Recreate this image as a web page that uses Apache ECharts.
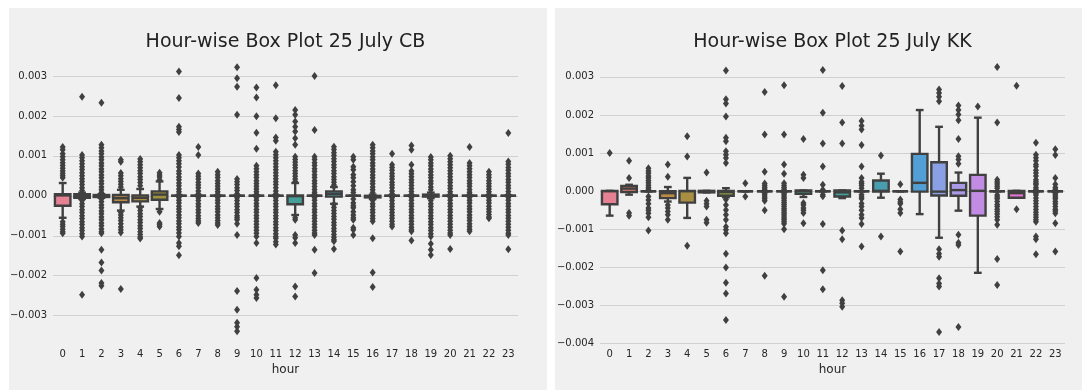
<!DOCTYPE html>
<html><head><meta charset="utf-8">
<script src="https://cdn.jsdelivr.net/npm/echarts@6/dist/echarts.min.js"></script>
<style>html,body{margin:0;padding:0;background:#fff}#c{width:1082px;height:390px}</style>
</head><body><div id="c"></div>
<script>
const hours = ['0','1','2','3','4','5','6','7','8','9','10','11','12','13','14','15','16','17','18','19','20','21','22','23'];
const titleCB = 'Hour-wise Box Plot 25 July CB';
const titleKK = 'Hour-wise Box Plot 25 July KK';
const xName = 'hour';
const yTicksCB = [-0.003, -0.002, -0.001, 0, 0.001, 0.002, 0.003];
const yTicksKK = [-0.004, -0.003, -0.002, -0.001, 0, 0.001, 0.002, 0.003];

// [lower whisker, Q1, median, Q3, upper whisker]
const cbBoxStats = [
  [-0.00055, -0.00025, 0.00001, 0.00004, 0.00032],
  [-0.00008, -0.00005, 0.0, 0.00004, 0.00008],
  [-0.00005, -0.00003, 0.0, 0.00002, 0.00004],
  [-0.00037, -0.00016, -0.00006, 0.00002, 0.00015],
  [-0.00027, -0.00014, -0.00005, 0.00001, 0.00017],
  [-0.00033, -0.0001, 0.00003, 0.00011, 0.00036],
  [0, 0, 0, 0, 0],
  [0, 0, 0, 0, 0],
  [0, 0, 0, 0, 0],
  [0, 0, 0, 0, 0],
  [0, 0, 0, 0, 0],
  [0, 0, 0, 0, 0],
  [-0.00048, -0.00021, -0.00001, 0.00001, 0.00032],
  [0, 0, 0, 0, 0],
  [-0.0002, -0.00002, 0.00005, 0.00011, 0.00022],
  [0, 0, 0, 0, 0],
  [-0.00008, -0.00004, -0.00002, 0.0, 0.00003],
  [0, 0, 0, 0, 0],
  [0, 0, 0, 0, 0],
  [-0.00006, -0.00002, 0.0, 0.00003, 0.00008],
  [0, 0, 0, 0, 0],
  [0, 0, 0, 0, 0],
  [0, 0, 0, 0, 0],
  [0, 0, 0, 0, 0]
];
const kkBoxStats = [
  [-0.00064, -0.00034, 0.0, 0.00001, 0.00001],
  [-0.00009, -0.00002, 0.00007, 0.00014, 0.00017],
  [0, 0, 0, 0, 0],
  [-0.00027, -0.00018, -0.00005, 0.0, 0.00011],
  [-0.0007, -0.0003, 0.0, 0.00001, 0.00035],
  [-0.00003, -0.00003, 0.0, 0.00001, 0.00001],
  [-0.00016, -0.00012, -0.00002, 0.00001, 0.00008],
  [0, 0, 0, 0, 0],
  [0, 0, 0, 0, 0],
  [0, 0, 0, 0, 0],
  [-0.00015, -0.00007, 0.0, 0.00002, 0.00002],
  [0, 0, 0, 0, 0],
  [-0.00018, -0.00014, -0.00003, 0.00002, 0.00002],
  [0, 0, 0, 0, 0],
  [-0.00017, -0.00001, 0.00001, 0.00028, 0.00046],
  [0, 0, 0, 0, 0],
  [-0.0006, -0.00001, 0.00022, 0.00098, 0.00213],
  [-0.00122, -0.00011, -0.00001, 0.00076, 0.00169],
  [-0.00051, -0.00012, 0.00003, 0.00022, 0.00049],
  [-0.00214, -0.00064, 0.00001, 0.00043, 0.00193],
  [0, 0, 0, 0, 0],
  [-0.00017, -0.00017, -0.00005, 0.00001, 0.00001],
  [0, 0, 0, 0, 0],
  [0, 0, 0, 0, 0]
];

const cbOutliers = [
  [0.00122, 0.00115, 0.00105, 0.00098, 0.0009, 0.00083, 0.00076, 0.00069, 0.00062, 0.00056, 0.0005, 0.00045, -0.00065, -0.00071, -0.00077, -0.00084, -0.0009, -0.00094],
  [0.00248, 0.00102, 0.00095, 0.00088, 0.0008, 0.00073, 0.00066, 0.00058, 0.0005, 0.00043, 0.00036, 0.00028, 0.0002, 0.00013, -0.00012, -0.0002, -0.00027, -0.00035, -0.00042, -0.0005, -0.00057, -0.00065, -0.00072, -0.0008, -0.00087, -0.00095, -0.00102, -0.00248],
  [0.00233, 0.00128, 0.0012, 0.00112, 0.00105, 0.00097, 0.0009, 0.00082, 0.00075, 0.00067, 0.0006, 0.00052, 0.00045, 0.00037, 0.0003, 0.00022, 0.00015, 0.00008, -0.00008, -0.00015, -0.00023, -0.0003, -0.00038, -0.00045, -0.00053, -0.0006, -0.00068, -0.00075, -0.00083, -0.0009, -0.00094, -0.00135, -0.00167, -0.00187, -0.00218, -0.00225],
  [0.0009, 0.00085, 0.00057, 0.0005, 0.00043, 0.00036, 0.00029, 0.00022, -0.00042, -0.00048, -0.00055, -0.00062, -0.0007, -0.00078, -0.00085, -0.00092, -0.00233],
  [0.00092, 0.00085, 0.00078, 0.0007, 0.00063, 0.00056, 0.00048, 0.00041, 0.00033, 0.00025, -0.0003, -0.00037, -0.00045, -0.00052, -0.0006, -0.00067, -0.00075, -0.00082, -0.0009, -0.00097, -0.00103, -0.00107],
  [0.00058, 0.00052, 0.00047, 0.0004, -0.0004, -0.00068, -0.00072, -0.00077],
  [0.00311, 0.00245, 0.00173, 0.00166, 0.0016, 0.00102, 0.00095, 0.00088, 0.0008, 0.00072, 0.00062, 0.00055, 0.00047, 0.0004, 0.00032, 0.00025, 0.00017, 0.0001, 0.00004, -0.00004, -0.00011, -0.00018, -0.00026, -0.00033, -0.0004, -0.00048, -0.00055, -0.00063, -0.0007, -0.00078, -0.00085, -0.00093, -0.00102, -0.00118, -0.00126, -0.00149],
  [0.00122, 0.00102, 0.00056, 0.00049, 0.00042, 0.00034, 0.00027, 0.0002, 0.00012, 0.00005, -0.00005, -0.00012, -0.0002, -0.00027, -0.00035, -0.00042, -0.0005, -0.00057, -0.00063, -0.00068],
  [0.0006, 0.00053, 0.00046, 0.00038, 0.00031, 0.00024, 0.00017, 0.0001, 0.00004, -0.00004, -0.00011, -0.00018, -0.00026, -0.00033, -0.0004, -0.00048, -0.00055, -0.00062, -0.00068, -0.00073],
  [0.00322, 0.00294, 0.00273, 0.00203, 0.00042, 0.00035, 0.00028, 0.0002, 0.00013, 0.00005, -0.00005, -0.00012, -0.0002, -0.00027, -0.00035, -0.00042, -0.0005, -0.00055, -0.0006, -0.0007, -0.00098, -0.00238, -0.00285, -0.00318, -0.00328, -0.00339],
  [0.00271, 0.00246, 0.00199, 0.00158, 0.00118, 0.00075, 0.00068, 0.0006, 0.00053, 0.00046, 0.00038, 0.00031, 0.00024, 0.00017, 0.0001, 0.00004, -0.00004, -0.00011, -0.00019, -0.00026, -0.00034, -0.00041, -0.00049, -0.00056, -0.00064, -0.00071, -0.00079, -0.00086, -0.00094, -0.00102, -0.00118, -0.00206, -0.00235, -0.00248, -0.00256],
  [0.00277, 0.00194, 0.00146, 0.00138, 0.0011, 0.00103, 0.00095, 0.00088, 0.0008, 0.00073, 0.00065, 0.00058, 0.0005, 0.00043, 0.00035, 0.00028, 0.0002, 0.00012, 0.00005, -0.00005, -0.00012, -0.0002, -0.00027, -0.00035, -0.00042, -0.0005, -0.00057, -0.00065, -0.00072, -0.0008, -0.00087, -0.00095, -0.00102, -0.00106, -0.00115, -0.00122],
  [0.00215, 0.00203, 0.00186, 0.00173, 0.00161, 0.00144, 0.00128, 0.00098, 0.00091, 0.00084, 0.00077, 0.0007, 0.00063, 0.00056, 0.00049, 0.00042, 0.00036, -0.00055, -0.0006, -0.00098, -0.00105, -0.00118, -0.00227, -0.00252],
  [0.003, 0.00165, 0.00098, 0.00091, 0.00083, 0.00076, 0.00068, 0.00061, 0.00053, 0.00046, 0.00038, 0.00031, 0.00023, 0.00016, 0.00009, 0.00004, -0.00004, -0.00011, -0.00019, -0.00026, -0.00034, -0.00041, -0.00049, -0.00056, -0.00064, -0.00071, -0.00079, -0.00086, -0.00093, -0.00098, -0.00135, -0.00193],
  [0.00123, 0.00116, 0.00108, 0.00101, 0.00093, 0.00086, 0.00078, 0.00071, 0.00063, 0.00056, 0.00048, 0.00041, 0.00034, 0.00027, 0.00023, -0.00022, -0.00029, -0.00037, -0.00044, -0.00052, -0.00059, -0.00067, -0.00074, -0.00082, -0.00089, -0.00097, -0.00104, -0.0011, -0.00114, -0.00133],
  [0.00098, 0.0009, 0.00073, 0.00065, 0.00053, 0.00045, 0.00035, 0.00025, 0.00015, 0.00008, -0.00008, -0.00018, -0.00025, -0.0003, -0.0004, -0.00048, -0.00055, -0.0006, -0.0008, -0.00085, -0.00098],
  [0.00128, 0.0012, 0.00112, 0.00105, 0.00097, 0.0009, 0.00082, 0.00075, 0.00067, 0.0006, 0.00052, 0.00045, 0.00037, 0.0003, 0.00022, 0.00015, 0.00008, -0.00012, -0.0002, -0.00027, -0.00035, -0.00042, -0.0005, -0.00057, -0.00064, -0.00106, -0.00192, -0.00228],
  [0.00105, 0.00078, 0.00071, 0.00064, 0.00056, 0.00049, 0.00042, 0.00034, 0.00027, 0.0002, 0.00012, 0.00005, -0.00005, -0.00012, -0.0002, -0.00027, -0.00034, -0.00042, -0.00049, -0.00056, -0.00064, -0.00071, -0.00077],
  [0.00126, 0.00115, 0.00078, 0.00062, 0.00055, 0.00048, 0.0004, 0.00033, 0.00026, 0.00018, 0.00011, 0.00004, -0.00004, -0.00011, -0.00019, -0.00026, -0.00034, -0.00041, -0.00049, -0.00056, -0.00064, -0.00071, -0.00079, -0.00085, -0.00089, -0.00112],
  [0.00097, 0.0009, 0.00082, 0.00075, 0.00067, 0.0006, 0.00052, 0.00045, 0.00037, 0.0003, 0.00022, 0.00015, -0.00012, -0.0002, -0.00027, -0.00035, -0.00042, -0.0005, -0.00057, -0.00065, -0.00072, -0.0008, -0.00087, -0.00095, -0.00102, -0.0012, -0.00135, -0.00148],
  [0.001, 0.00093, 0.00085, 0.00078, 0.0007, 0.00063, 0.00055, 0.00048, 0.0004, 0.00033, 0.00025, 0.00018, 0.0001, 0.00004, -0.00004, -0.00011, -0.00019, -0.00026, -0.00034, -0.00041, -0.00049, -0.00056, -0.00064, -0.00071, -0.00079, -0.00086, -0.00093, -0.00098, -0.00133],
  [0.00122, 0.00082, 0.00075, 0.00068, 0.0006, 0.00053, 0.00046, 0.00038, 0.00031, 0.00024, 0.00016, 0.00009, 0.00004, -0.00004, -0.00011, -0.00018, -0.00026, -0.00033, -0.0004, -0.00048, -0.00055, -0.00062, -0.0007, -0.00077, -0.00084, -0.00089],
  [0.0006, 0.00053, 0.00046, 0.00038, 0.00031, 0.00024, 0.00017, 0.0001, 0.00004, -0.00004, -0.00011, -0.00018, -0.00026, -0.00033, -0.0004, -0.00047, -0.00053, -0.00056],
  [0.00157, 0.00086, 0.00079, 0.00071, 0.00064, 0.00056, 0.00049, 0.00041, 0.00034, 0.00026, 0.00019, 0.00011, 0.00004, -0.00004, -0.00011, -0.00019, -0.00026, -0.00034, -0.00041, -0.00049, -0.00056, -0.00064, -0.00071, -0.00079, -0.00086, -0.00094, -0.00098, -0.00134]
];

const kkOutliers = [
  [0.001],
  [0.0008, 0.00035, -0.00057, -0.00064],
  [0.0006, 0.00053, 0.00047, 0.0004, 0.00035, 0.00028, 0.00022, 0.00016, 0.0001, 0.00005, -0.00014, -0.00023, -0.00033, -0.00044, -0.0005, -0.00058, -0.00068, -0.00103],
  [0.0007, 0.00038, -0.00036, -0.00044, -0.00053, -0.00062, -0.00075],
  [0.00144, 0.00091, -0.00143],
  [0.00049, -0.00025, -0.00033, -0.0004, -0.00075, -0.00083],
  [0.00317, 0.00241, 0.0023, 0.00196, 0.0014, 0.00131, 0.00105, 0.00096, 0.00087, 0.00074, -0.00022, -0.00036, -0.00049, -0.00062, -0.00075, -0.00093, -0.00101, -0.0011, -0.00164, -0.002, -0.0024, -0.00268, -0.00338],
  [0.00021, -0.00014],
  [0.0026, 0.00149, 0.00051, 0.0002, 0.00015, 0.0001, 0.00005, -0.00005, -0.0001, -0.00015, -0.0002, -0.00025, -0.0005, -0.00222],
  [0.00278, 0.00149, 0.0007, 0.00046, 0.00021, 0.00015, 0.0001, 0.00005, -0.00005, -0.0001, -0.00015, -0.0002, -0.00025, -0.0003, -0.00035, -0.0004, -0.00045, -0.0005, -0.00055, -0.0006, -0.00065, -0.0007, -0.00075, -0.0008, -0.00085, -0.001, -0.00277],
  [0.00137, 0.00043, 0.00035, -0.00031, -0.00036, -0.00044, -0.0005, -0.00057, -0.00084],
  [0.00318, 0.00206, 0.00125, 0.00065, 0.00017, 0.00004, -0.00009, -0.00013, -0.00086, -0.00207, -0.00257],
  [0.00276, 0.0018, 0.00125, -0.00103, -0.00126, -0.00286, -0.00294, -0.00303],
  [0.00184, 0.00172, 0.00162, 0.00121, 0.00065, 0.00035, 0.00025, 0.0002, 0.00015, 0.00008, -0.00009, -0.00015, -0.0002, -0.00032, -0.0004, -0.0005, -0.00062, -0.0007, -0.00086, -0.00145],
  [0.00094, -0.00119],
  [0.00018, -0.00022, -0.00028, -0.00033, -0.00047, -0.00057, -0.00158],
  [],
  [0.00267, 0.00258, 0.00248, 0.00236, -0.00152, -0.00164, -0.00172, -0.00228, -0.00242, -0.0025, -0.00369],
  [0.00225, 0.00213, 0.00201, 0.00186, 0.00137, 0.00092, 0.00083, 0.00072, -0.00114, -0.00135, -0.00141, -0.00356],
  [0.00222],
  [0.00326, 0.0018, 0.0003, 0.00024, 0.00019, 0.00013, 0.00008, -0.0001, -0.00015, -0.0002, -0.00027, -0.00035, -0.0004, -0.00047, -0.00053, -0.0006, -0.00067, -0.00075, -0.00088, -0.00178, -0.00246],
  [0.00277, -0.00047],
  [0.00127, 0.00096, 0.00088, 0.0008, 0.0007, 0.00065, 0.00055, 0.00048, 0.0004, 0.0003, 0.00025, 0.0002, 0.00017, 0.0001, 0.00005, -0.00005, -0.0001, -0.00018, -0.00025, -0.00032, -0.0004, -0.00048, -0.00055, -0.00062, -0.00068, -0.00075, -0.0008, -0.00119, -0.00126, -0.00165],
  [0.0011, 0.00095, 0.00035, 0.00018, 0.0001, 0.00005, -0.00005, -0.0001, -0.00015, -0.0002, -0.00027, -0.00033, -0.0004, -0.00047, -0.00052, -0.00058, -0.00084, -0.00158]
];

// ---- seaborn-like "husl" palette (24 hues, desaturated 0.75) ----
function huslToRgb(h, s, l) {
  const M = [[3.2406, -1.5372, -0.4986], [-0.9689, 1.8758, 0.0415], [0.0557, -0.2040, 1.0570]];
  const hrad = h / 180 * Math.PI, sinH = Math.sin(hrad), cosH = Math.cos(hrad);
  const sub1 = Math.pow(l + 16, 3) / 1560896;
  const sub2 = sub1 > 0.008856 ? sub1 : l / 903.3;
  let maxC = Infinity;
  for (const [m1, m2, m3] of M) {
    const top = (0.99915 * m1 + 1.05122 * m2 + 1.14460 * m3) * sub2;
    const rb = 0.86330 * m3 - 0.17266 * m2;
    const lb = 0.12949 * m3 - 0.38848 * m1;
    const bottom = (rb * sinH + lb * cosH) * sub2;
    for (const t of [0, 1]) {
      const C = l * (top - 1.05122 * t) / (bottom + 0.17266 * sinH * t);
      if (C > 0 && C < maxC) maxC = C;
    }
  }
  const C = maxC / 100 * s;
  const U = Math.cos(hrad) * C, V = Math.sin(hrad) * C;
  const Y = l > 8 ? Math.pow((l + 16) / 116, 3) : l / 903.3;
  const vu = U / (13 * l) + 0.19784, vv = V / (13 * l) + 0.46834;
  const X = -(9 * Y * vu) / ((vu - 4) * vv - vu * vv);
  const Z = (9 * Y - 15 * vv * Y - vv * X) / (3 * vv);
  return M.map(r => r[0] * X + r[1] * Y + r[2] * Z)
    .map(c => c <= 0.0031308 ? 12.92 * c : 1.055 * Math.pow(c, 1 / 2.4) - 0.055)
    .map(c => Math.min(1, Math.max(0, c)));
}
function rgbToHls(r, g, b) {
  const mx = Math.max(r, g, b), mn = Math.min(r, g, b);
  const l = (mx + mn) / 2;
  if (mx === mn) return [0, l, 0];
  const s = l <= 0.5 ? (mx - mn) / (mx + mn) : (mx - mn) / (2 - mx - mn);
  const rc = (mx - r) / (mx - mn), gc = (mx - g) / (mx - mn), bc = (mx - b) / (mx - mn);
  let h;
  if (r === mx) h = bc - gc; else if (g === mx) h = 2 + rc - bc; else h = 4 + gc - rc;
  h = ((h / 6) % 1 + 1) % 1;
  return [h, l, s];
}
function hlsToRgb(h, l, s) {
  if (s === 0) return [l, l, l];
  const m2 = l <= 0.5 ? l * (1 + s) : l + s - l * s, m1 = 2 * l - m2;
  const v = hue => { hue = ((hue % 1) + 1) % 1;
    if (hue < 1 / 6) return m1 + (m2 - m1) * hue * 6;
    if (hue < 0.5) return m2;
    if (hue < 2 / 3) return m1 + (m2 - m1) * (2 / 3 - hue) * 6;
    return m1; };
  return [v(h + 1 / 3), v(h), v(h - 1 / 3)];
}
const toHex = c => '#' + c.map(x => Math.round(x * 255).toString(16).padStart(2, '0')).join('');
const palRgb = hours.map((_, i) => {
  const hue = ((i / hours.length + 0.01) % 1) * 359;
  const rgb = huslToRgb(hue, 0.9 * 99, 0.65 * 99);
  const [h, l, s] = rgbToHls(...rgb);
  return hlsToRgb(h, l, s * 0.75);
});
const palette = palRgb.map(toHex);
const lum = Math.min(...palRgb.map(c => rgbToHls(...c)[1])) * 0.6;
const gray = toHex([lum, lum, lum]);

const FONT = 'DejaVu Sans';
const fmt = v => v.toFixed(3).replace('-', '\u2212');

function boxData(stats) { return stats.map((s, i) => [i, ...s]); }
function outlierData(lists) {
  const pts = [];
  lists.forEach((vals, i) => vals.forEach(v => pts.push([i, v])));
  return pts;
}
function renderBox(params, api) {
  const i = api.value(0);
  const wlo = api.value(1), q1 = api.value(2), med = api.value(3), q3 = api.value(4), whi = api.value(5);
  const band = api.size([1, 0])[0];
  const bw = band * 0.8, cw = bw * 0.5;
  const cx = api.coord([i, 0])[0];
  const y = v => api.coord([i, v])[1];
  const lw = 2.4;
  const ls = { stroke: gray, lineWidth: lw };
  const y3 = y(q3), y1 = y(q1), ylo = y(wlo), yhi = y(whi), ym = y(med);
  return { type: 'group', children: [
    { type: 'line', shape: { x1: cx, y1: y3, x2: cx, y2: yhi }, style: ls },
    { type: 'line', shape: { x1: cx, y1: y1, x2: cx, y2: ylo }, style: ls },
    { type: 'line', shape: { x1: cx - cw / 2, y1: yhi, x2: cx + cw / 2, y2: yhi }, style: ls },
    { type: 'line', shape: { x1: cx - cw / 2, y1: ylo, x2: cx + cw / 2, y2: ylo }, style: ls },
    { type: 'rect', shape: { x: cx - bw / 2, y: y3, width: bw, height: y1 - y3 }, style: { fill: palette[i], stroke: gray, lineWidth: lw } },
    { type: 'line', shape: { x1: cx - bw / 2, y1: ym, x2: cx + bw / 2, y2: ym }, style: ls }
  ] };
}

function yAxisCfg(idx, min, max, ticks) {
  return {
    type: 'value', gridIndex: idx, min: min, max: max,
    axisLine: { show: false },
    axisTick: { show: false, customValues: ticks },
    splitLine: { show: true, lineStyle: { color: '#d0d0d0', width: 1 } },
    axisLabel: { customValues: ticks, formatter: fmt, fontFamily: FONT, fontSize: 10, color: '#262626', margin: 6 }
  };
}
function xAxisCfg(idx) {
  return {
    type: 'category', gridIndex: idx, data: hours, boundaryGap: true,
    axisLine: { show: false }, axisTick: { show: false }, splitLine: { show: false },
    axisLabel: { fontFamily: FONT, fontSize: 10, color: '#262626', margin: 3, interval: 0 },
    name: xName, nameLocation: 'middle', nameGap: 16,
    nameTextStyle: { fontFamily: FONT, fontSize: 12, color: '#262626' }
  };
}

const chart = echarts.init(document.getElementById('c'), null, { renderer: 'canvas' });
chart.setOption({
  animation: false,
  backgroundColor: '#ffffff',
  graphic: [
    { type: 'rect', z: -10, shape: { x: 9, y: 8, width: 538, height: 390 }, style: { fill: '#f0f0f0' } },
    { type: 'rect', z: -10, shape: { x: 555, y: 8, width: 530, height: 390 }, style: { fill: '#f0f0f0' } },
    { type: 'text', x: 285.5, y: 42, style: { text: titleCB, font: '19px "DejaVu Sans"', fill: '#222', align: 'center', verticalAlign: 'middle', textAlign: 'center', textVerticalAlign: 'middle' } },
    { type: 'text', x: 832.5, y: 42, style: { text: titleKK, font: '19px "DejaVu Sans"', fill: '#222', align: 'center', verticalAlign: 'middle', textAlign: 'center', textVerticalAlign: 'middle' } }
  ],
  grid: [
    { left: 53, top: 54, width: 465, height: 292 },
    { left: 600, top: 54, width: 465, height: 292 }
  ],
  xAxis: [xAxisCfg(0), xAxisCfg(1)],
  yAxis: [yAxisCfg(0, -0.00376, 0.00355, yTicksCB), yAxisCfg(1, -0.00406, 0.0036, yTicksKK)],
  series: [
    { type: 'custom', xAxisIndex: 0, yAxisIndex: 0, renderItem: renderBox, data: boxData(cbBoxStats), encode: { x: 0, y: [1, 2, 3, 4, 5] }, z: 2 },
    { type: 'custom', xAxisIndex: 1, yAxisIndex: 1, renderItem: renderBox, data: boxData(kkBoxStats), encode: { x: 0, y: [1, 2, 3, 4, 5] }, z: 2 },
    { type: 'scatter', xAxisIndex: 0, yAxisIndex: 0, data: outlierData(cbOutliers), symbol: 'diamond', symbolSize: [6, 8], itemStyle: { color: gray, opacity: 1 }, z: 3, silent: true },
    { type: 'scatter', xAxisIndex: 1, yAxisIndex: 1, data: outlierData(kkOutliers), symbol: 'diamond', symbolSize: [6, 8], itemStyle: { color: gray, opacity: 1 }, z: 3, silent: true }
  ]
});
</script>
</body></html>
